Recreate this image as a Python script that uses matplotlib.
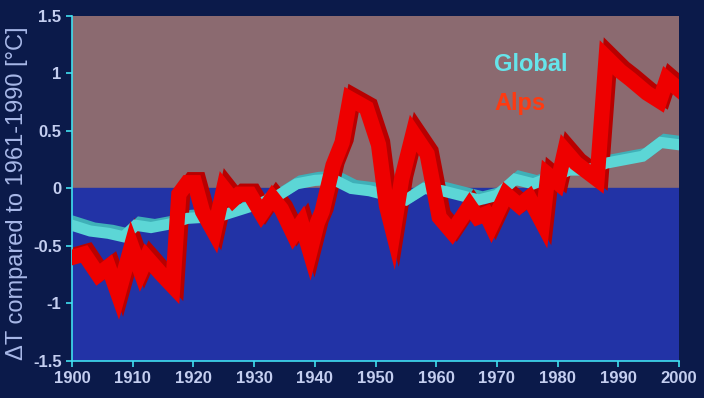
import numpy as np
import matplotlib.pyplot as plt
import matplotlib.transforms as mtransforms

plt.rcParams['font.family'] = ['Liberation Sans', 'DejaVu Sans']

# Alps temperature anomaly
alps_years = [1900, 1902, 1904.3, 1906, 1907.6, 1909.8, 1911.3, 1912.3, 1914.8, 1916.6,
              1917.6, 1919, 1920.2, 1921.5, 1923.4, 1925, 1926.5, 1927.5, 1929.3, 1931.2,
              1933, 1934.5, 1936.5, 1937.8, 1939.2, 1940.4, 1941.2, 1943, 1944.5, 1945.8,
              1948.5, 1950.5, 1951.8, 1952.9, 1954.3, 1956.2, 1958.5, 1960.5, 1962.6, 1965.5,
              1966.8, 1968.2, 1969.1, 1971.5, 1973.7, 1975.3, 1977.5, 1978.4, 1980, 1981.2,
              1983, 1985.5, 1986.5, 1988, 1990.3, 1992, 1994.7, 1996.8, 1998, 2000]
alps_vals = [-0.6, -0.57, -0.75, -0.68, -0.92, -0.5, -0.72, -0.6, -0.75, -0.85,
             -0.05, 0.05, 0.05, -0.2, -0.38, 0.0, -0.1, -0.05, -0.05, -0.22,
             -0.08, -0.18, -0.4, -0.3, -0.55, -0.3, -0.2, 0.2, 0.4, 0.78,
             0.7, 0.38, -0.15, -0.38, 0.08, 0.48, 0.3, -0.25, -0.38, -0.15,
             -0.25, -0.22, -0.32, -0.05, -0.15, -0.08, -0.3, 0.12, 0.05, 0.33,
             0.22, 0.12, 0.08, 1.14, 1.02, 0.95, 0.83, 0.76, 0.95, 0.86]

# Global temperature anomaly
glob_years = [1900, 1903, 1906, 1908.5, 1910.5, 1913, 1916, 1919, 1922, 1925,
              1928, 1931, 1934, 1937, 1940, 1943, 1946, 1949, 1952, 1955,
              1958, 1961, 1964, 1967, 1970, 1973, 1976, 1979, 1982, 1985,
              1988, 1991, 1994, 1997, 2000]
glob_vals = [-0.32, -0.37, -0.39, -0.42, -0.32, -0.34, -0.31, -0.26, -0.25, -0.23,
             -0.18, -0.13, -0.06, 0.04, 0.07, 0.08, 0.0, -0.02, -0.06, -0.1,
             0.0, -0.02, -0.06, -0.1, -0.06, 0.08, 0.04, 0.1, 0.16, 0.16,
             0.22, 0.25, 0.28, 0.4, 0.38]

x_ticks = list(range(1900, 2001, 10))
y_ticks = [-1.5, -1, -0.5, 0, 0.5, 1, 1.5]
y_tick_labels = ['-1.5', '-1', '-0.5', '0', '0.5', '1', '1.5']

bg = '#0b1a4a'
fig = plt.figure(figsize=(7.04, 3.98), dpi=100, facecolor=bg)
ax = fig.add_axes([0.1023, 0.093, 0.8622, 0.867])
ax.set_facecolor('none')

ax.axhspan(0, 1.5, color='#8b6a70', zorder=0)
ax.axhspan(-1.5, 0, color='#2233a6', zorder=0)


def ribbon(ax, x, y, front, side, lw, dx, dy):
    # fake 3D ribbon: shifted darker copy behind the main thick line
    shift = mtransforms.offset_copy(ax.transData, fig=ax.figure, x=dx, y=dy, units='dots')
    ax.plot(x, y, color=side, lw=lw, solid_joinstyle='miter', transform=shift, zorder=2)
    ax.plot(x, y, color=front, lw=lw, solid_joinstyle='miter', zorder=3)


ribbon(ax, glob_years, glob_vals, '#5cd6d6', '#3fb0b8', 8, 4, 3)
ribbon(ax, alps_years, alps_vals, '#ee0000', '#b80000', 11, 4, 3)

ax.text(1975.5, 1.08, 'Global', color='#66e4ea', fontsize=17, fontweight='bold',
        ha='center', va='center')
ax.text(1973.8, 0.74, 'Alps', color='#ff3a10', fontsize=17, fontweight='bold',
        ha='center', va='center')

ax.set_xlim(1900, 2000)
ax.set_ylim(-1.5, 1.5)
ax.set_xticks(x_ticks)
ax.set_yticks(y_ticks)
ax.set_yticklabels(y_tick_labels)

for s in ['top', 'right']:
    ax.spines[s].set_visible(False)
for s in ['left', 'bottom']:
    ax.spines[s].set_color('#40e0f0')
    ax.spines[s].set_linewidth(1.2)

ax.tick_params(colors='#40e0f0', length=4, width=1.2, direction='out')
ax.tick_params(labelcolor='#c4cef0', labelsize=12)
for lab in ax.get_xticklabels() + ax.get_yticklabels():
    lab.set_fontweight('bold')

ax.set_ylabel('ΔT compared to 1961-1990 [°C]', color='#a8b8e8', fontsize=17)
ax.yaxis.set_label_coords(-0.0725, 0.485)

fig.savefig('out.png', dpi=100, facecolor=bg)
